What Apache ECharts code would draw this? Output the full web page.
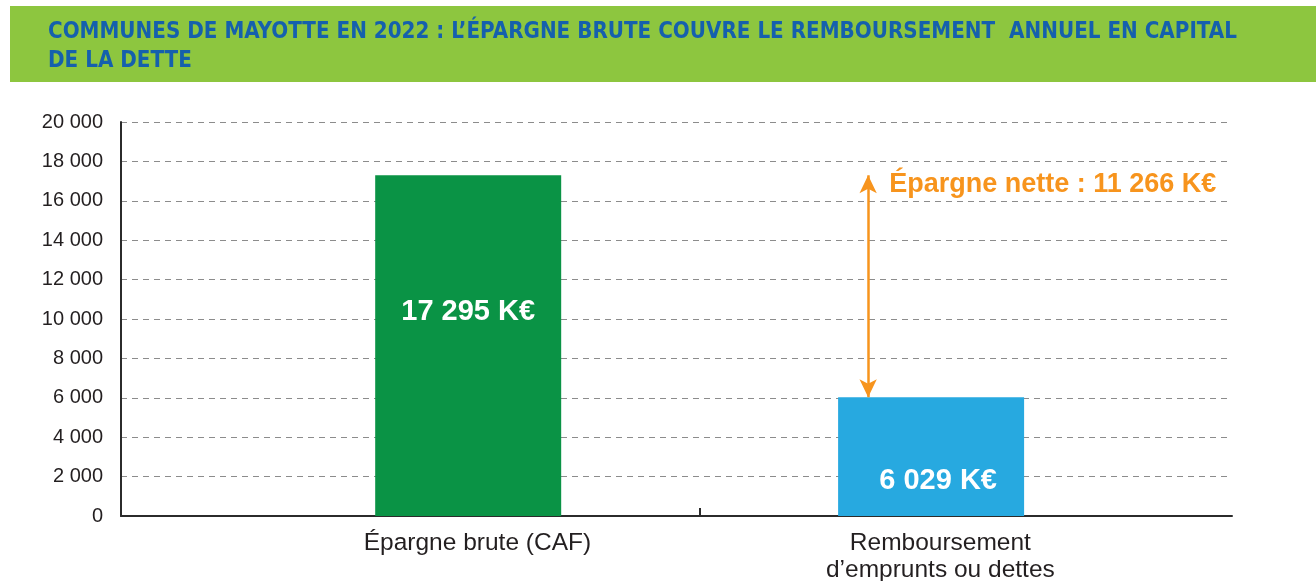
<!DOCTYPE html>
<html>
<head>
<meta charset="utf-8">
<script src="https://cdn.jsdelivr.net/npm/echarts@6/dist/echarts.min.js"></script>
<style>
  html, body { margin: 0; padding: 0; background: #fff; }
  #main { width: 1316px; height: 581px; }
</style>
</head>
<body>
<div id="main"></div>
<script>
// données
var categories = ["Épargne brute (CAF)", "Remboursement\nd\u2019emprunts ou dettes"];
var catPos = [1, 2];          // positions des barres sur l'axe x
var values = [17295, 6029];   // K€
var barColors = ["#0a9345", "#27a9e0"];
var arrowX = 1.864;           // position de la flèche épargne nette
var yTicks = [0, 20000, 2000]; // min, max, pas

function fmt(v) {
    return String(v).replace(/\B(?=(\d{3})+(?!\d))/g, " ");
}

var net = values[0] - values[1];

var barData = [];
for (var i = 0; i < values.length; i++) {
    barData.push({
        value: [catPos[i], values[i]],
        itemStyle: { color: barColors[i] },
        label: i == 0
            ? { position: "inside", offset: [0, -34] }
            : { position: "insideBottom", distance: 21, offset: [7, 0] }
    });
}

// les libellés de l'axe x sont un peu décalés à droite des barres
var labelPos = catPos.map(function (p) { return p + 0.02; });

var myChart = echarts.init(document.getElementById("main"));
var option = {
    animation: false,
    graphic: [
        {
            type: "rect",
            shape: { x: 10, y: 6, width: 1306, height: 76 },
            style: { fill: "#8dc63f" },
            silent: true
        },
        {
            type: "text",
            left: 48, top: 18,
            style: {
                text: "COMMUNES DE MAYOTTE EN 2022 : L\u2019ÉPARGNE BRUTE COUVRE LE REMBOURSEMENT  ANNUEL EN CAPITAL\nDE LA DETTE",
                fill: "#1560ad",
                font: "bold 22.2px 'DejaVu Sans Condensed'",
                lineHeight: 29
            }
        }
    ],
    grid: { left: 121, right: 84, top: 122, bottom: 65, outerBoundsMode: "none" },
    xAxis: {
        type: "value",
        min: 0.25,
        max: 2.65,
        splitLine: { show: false },
        axisLine: { lineStyle: { color: "#2b2b2b", width: 2 } },
        axisTick: {
            show: true, inside: true, length: 8,
            customValues: [1.5],
            lineStyle: { color: "#2b2b2b", width: 2 }
        },
        axisLabel: {
            customValues: labelPos,
            formatter: function (v) {
                var k = catPos.indexOf(Math.round(v));
                return k >= 0 ? categories[k] : "";
            },
            color: "#231f20",
            fontFamily: "Liberation Sans",
            fontSize: 24.5,
            lineHeight: 27,
            margin: 14
        }
    },
    yAxis: {
        type: "value",
        min: yTicks[0],
        max: yTicks[1],
        interval: yTicks[2],
        axisLine: { show: true, lineStyle: { color: "#2b2b2b", width: 2 } },
        axisTick: { show: false },
        axisLabel: {
            formatter: fmt,
            color: "#231f20",
            fontFamily: "Liberation Sans",
            fontSize: 20,
            margin: 18
        },
        splitLine: { lineStyle: { color: "#8c8c8c", type: [6, 5], width: 1 } }
    },
    series: [
        {
            type: "bar",
            barWidth: 186,
            data: barData,
            label: {
                show: true,
                formatter: function (p) { return fmt(p.value[1]) + " K€"; },
                color: "#fff",
                fontFamily: "Liberation Sans",
                fontWeight: "bold",
                fontSize: 29
            },
            markLine: {
                silent: true,
                symbol: ["arrow", "arrow"],
                symbolSize: [13, 18],
                lineStyle: { color: "#f7941d", width: 2.5, type: "solid" },
                label: { show: false },
                data: [[
                    { coord: [arrowX, values[1]] },
                    { coord: [arrowX, values[0]] }
                ]]
            },
            markPoint: {
                silent: true,
                symbolSize: 0,
                label: {
                    show: true,
                    position: "right",
                    offset: [16, 9],
                    formatter: "Épargne nette : " + fmt(net) + " K€",
                    color: "#f7941d",
                    fontFamily: "Liberation Sans",
                    fontWeight: "bold",
                    fontSize: 27
                },
                data: [{ coord: [arrowX, values[0]] }]
            }
        }
    ]
};
myChart.setOption(option);
</script>
</body>
</html>
